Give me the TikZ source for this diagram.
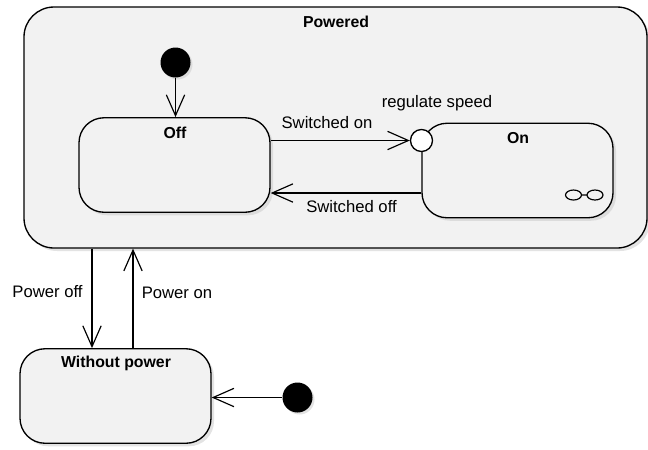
\documentclass[tikz,border=0pt]{standalone}
\usepackage{fontspec}
\setmainfont{Liberation Sans}
\usetikzlibrary{arrows.meta,shadows}
\definecolor{stategray}{RGB}{242,242,242}
\tikzset{
  statebox/.style={draw,line width=.8pt,fill=stategray,rounded corners=15pt,minimum width=114.6pt,minimum height=56.7pt,
    drop shadow={shadow xshift=1.8pt,shadow yshift=-1.8pt,fill=black!22}},
  startdot/.style={circle,fill=black,inner sep=0pt,minimum size=18pt,
    drop shadow={shadow xshift=1.2pt,shadow yshift=-1.2pt,fill=black!22}},
  trans/.style={line width=.7pt,-{Straight Barb[length=12.5pt,width=11pt]}},
  lbl/.style={font=\fontsize{10}{12}\selectfont},
  title/.style={font=\fontsize{9.5}{11}\selectfont\bfseries}
}
\begin{document}
\begin{tikzpicture}[x=.6pt,y=-.6pt]
\useasboundingbox (0,0) rectangle (648,449);
\node[statebox,rounded corners=18pt,minimum width=373.8pt,minimum height=144.6pt] (powered) at (335.5,127.5) {};
\node[title] (poweredtitle) at (336,22) {Powered};
\node[startdot] (start1) at (175.5,62.5) {};
\node[statebox] (off) at (174.5,165) {};
\node[title] (offtitle) at (175,133) {Off};
\node[statebox] (on) at (517.5,170.5) {};
\node[title] (ontitle) at (518,138) {On};
\node[circle,draw,line width=.8pt,fill=white,inner sep=0pt,minimum size=13.2pt] (entry) at (421.5,140.5) {};
\draw[line width=.7pt] (573.5,195) ellipse [x radius=4.8pt,y radius=3pt]
  (595,195) ellipse [x radius=4.8pt,y radius=3pt] (581.5,195)--(587,195);
\node[statebox] (without) at (115.5,396) {};
\node[title] (withouttitle) at (116,363) {Without power};
\node[startdot] (start2) at (297.5,397.5) {};
\draw[trans] (start1) -- (start1 |- off.north);
\draw[trans] (off.east |- entry) -- (entry);
\coordinate (offret) at ([yshift=-13.5pt]on.west);
\draw[trans] (offret) -- (offret -| off.east);
\coordinate (offdrop) at ([xshift=-14.1pt]without.north);
\coordinate (onrise) at ([xshift=10.5pt]without.north);
\draw[trans] (offdrop |- powered.south) -- (offdrop);
\draw[trans] (onrise) -- (onrise |- powered.south);
\draw[trans] (start2) -- (start2 -| without.east);
\node[lbl] (swon) at (327,123) {Switched on};
\node[lbl] (swoff) at (351.5,207) {Switched off};
\node[lbl] (regspeed) at (437,103) {regulate speed};
\node[lbl] (pwoff) at (47.5,292) {Power off};
\node[lbl] (pwon) at (177,293) {Power on};
\end{tikzpicture}
\end{document}
